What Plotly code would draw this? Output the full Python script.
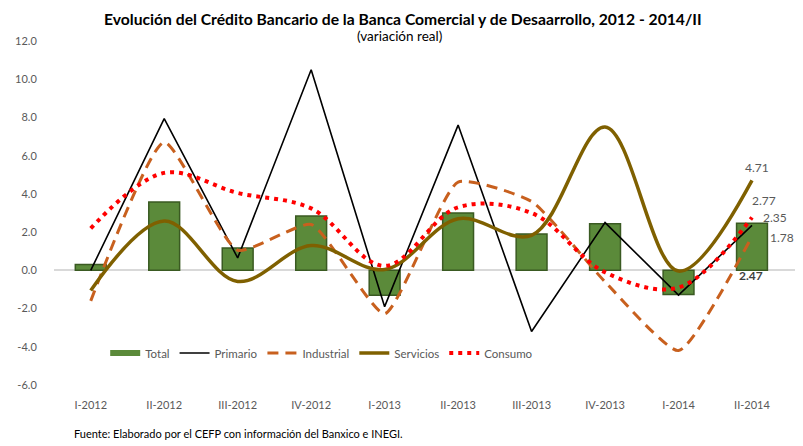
import plotly.graph_objects as go

categories = ["I-2012", "II-2012", "III-2012", "IV-2012", "I-2013",
              "II-2013", "III-2013", "IV-2013", "I-2014", "II-2014"]
total = [0.30, 3.57, 1.17, 2.84, -1.30, 3.00, 1.90, 2.44, -1.26, 2.47]
primario = [0.00, 7.94, 0.65, 10.50, -1.90, 7.60, -3.20, 2.50, -1.30, 2.35]
industrial = [-1.60, 6.70, 1.05, 2.40, -2.27, 4.62, 3.60, -0.60, -4.20, 1.78]
servicios = [-1.05, 2.58, -0.58, 1.30, 0.04, 2.70, 1.83, 7.50, -0.04, 4.71]
consumo = [2.20, 5.10, 4.05, 3.24, 0.23, 3.30, 3.00, -0.10, -0.90, 2.77]
y_ticks = [-6, -4, -2, 0, 2, 4, 6, 8, 10, 12]
y_tick_labels = ["-6.0", "-4.0", "-2.0", "0.0", "2.0", "4.0", "6.0", "8.0", "10.0", "12.0"]

FONT = "Lato"
GRAY = "#595959"
BAR_FILL = "#5b8a3a"
BAR_EDGE = "#3a5a22"

fig = go.Figure()
fig.add_trace(go.Bar(
    x=categories, y=total, name="Total", showlegend=False,
    marker=dict(color=BAR_FILL, line=dict(color=BAR_EDGE, width=1.5)),
    width=0.42,
))
# legend-only entry drawn as a wide bar swatch like the original
fig.add_trace(go.Scatter(
    x=[None], y=[None], name="Total", mode="lines",
    line=dict(color=BAR_FILL, width=6),
))
fig.add_trace(go.Scatter(
    x=categories, y=primario, name="Primario", mode="lines",
    line=dict(color="#000000", width=1.6),
))
fig.add_trace(go.Scatter(
    x=categories, y=industrial, name="Industrial", mode="lines",
    line=dict(color="#c8601e", width=3, dash="11px,7px", shape="spline", smoothing=0.5),
))
fig.add_trace(go.Scatter(
    x=categories, y=servicios, name="Servicios", mode="lines",
    line=dict(color="#7f6000", width=3.5, shape="spline", smoothing=1.0),
))
fig.add_trace(go.Scatter(
    x=categories, y=consumo, name="Consumo", mode="lines",
    line=dict(color="#ff0000", width=4, dash="4px,5px", shape="spline", smoothing=1.0),
))

last = categories[-1]
labels = [
    ("4.71", servicios[-1], 5, 13, False),
    ("2.77", consumo[-1], 12, 17, False),
    ("2.35", primario[-1], 23, 8, False),
    ("1.78", industrial[-1], 30, -1, False),
    ("2.47", total[-1], -1, -52, True),
]
for txt, val, dx, dy, bold in labels:
    fig.add_annotation(
        x=last, y=val, text=f"<b>{txt}</b>" if bold else txt, showarrow=False,
        xshift=dx, yshift=dy, xanchor="center", yanchor="middle",
        font=dict(family=FONT, size=12, color="#404040" if bold else GRAY),
    )

fig.add_annotation(
    xref="paper", yref="paper", x=0.47, y=1, yshift=22, xanchor="center", yanchor="middle",
    text="<b>Evolución del Crédito Bancario de la Banca Comercial y de Desaarrollo, 2012 - 2014/II</b>",
    showarrow=False, font=dict(family=FONT, size=15.7, color="#000000"),
)
fig.add_annotation(
    xref="paper", yref="paper", x=0.466, y=1, yshift=5, xanchor="center", yanchor="middle",
    text="(variación real)", showarrow=False,
    font=dict(family=FONT, size=13.5, color="#000000"),
)
fig.add_annotation(
    xref="paper", yref="paper", x=0.024, y=0, yshift=-48, xanchor="left", yanchor="middle",
    text="Fuente: Elaborado por el CEFP con información del Banxico e INEGI.",
    showarrow=False, font=dict(family=FONT, size=11, color="#000000"),
)

fig.update_layout(
    width=795, height=438,
    margin=dict(l=38, r=7, t=33, b=61),
    paper_bgcolor="white", plot_bgcolor="white",
    font=dict(family=FONT, size=11, color=GRAY),
    showlegend=True,
    legend=dict(
        orientation="h", x=0.069, y=0.093, xanchor="left", yanchor="middle",
        bgcolor="rgba(0,0,0,0)", font=dict(family=FONT, size=11.5, color=GRAY),
        traceorder="normal", itemwidth=30, tracegroupgap=0,
    ),
)
fig.update_xaxes(
    type="category", showgrid=False, zeroline=False, showline=False,
    ticks="outside", ticklen=10, tickcolor="rgba(0,0,0,0)",
    tickfont=dict(family=FONT, size=11, color=GRAY),
)
fig.update_yaxes(
    range=[-6, 12], tickvals=y_ticks, ticktext=y_tick_labels,
    showgrid=False, zeroline=True, zerolinecolor="#d9d9d9", zerolinewidth=2,
    showline=False, ticks="outside", ticklen=14, tickcolor="rgba(0,0,0,0)",
    tickfont=dict(family=FONT, size=11, color=GRAY),
)

fig.write_html("out.html")
